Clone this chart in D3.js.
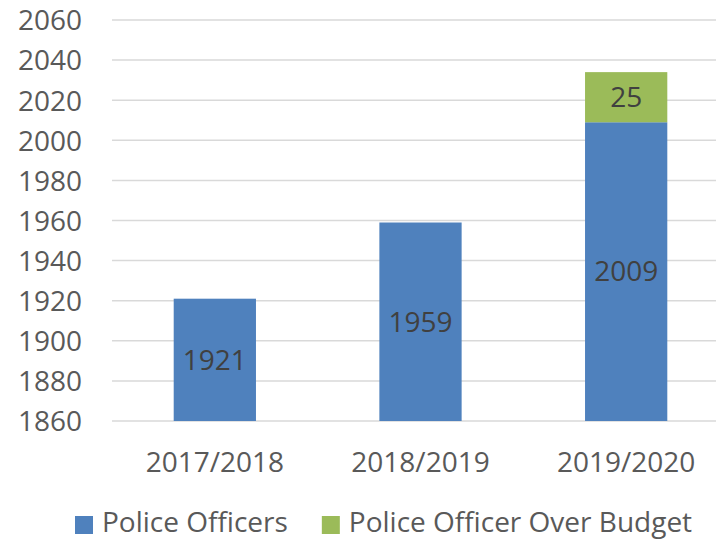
<!DOCTYPE html>
<html>
<head>
<meta charset="utf-8">
<script src="https://cdn.jsdelivr.net/npm/d3@7"></script>
<style>
  body { margin: 0; background: #fff; }
  text { font-family: "Open Sans", "Noto Sans", sans-serif; }
</style>
</head>
<body>
<div id="chart"></div>
<script>
var w = 716; // Set the width
var h = 540; // Set the height

// Chart data
var years = ["2017/2018", "2018/2019", "2019/2020"];
var officers = [1921, 1959, 2009];
var overBudget = [0, 0, 25];
var yTicks = [1860, 1880, 1900, 1920, 1940, 1960, 1980, 2000, 2020, 2040, 2060];
var seriesNames = ["Police Officers", "Police Officer Over Budget"];
var colors = ["#4f81bd", "#9bbb59"];

var svg = d3.select("#chart")
    .append("svg")
    .attr("width", w)
    .attr("height", h);

// Scales
var xScale = d3.scaleBand()
    .domain(years)
    .range([112, 729])
    .paddingInner(0.6)
    .paddingOuter(0.3);

var yScale = d3.scaleLinear()
    .domain([1860, 2060])
    .range([421, 20]);

// Gridlines
svg.append("g")
    .selectAll("line")
    .data(yTicks)
    .enter()
    .append("line")
    .attr("x1", 112)
    .attr("x2", w)
    .attr("y1", function(d) { return yScale(d); })
    .attr("y2", function(d) { return yScale(d); })
    .attr("stroke", "#d9d9d9")
    .attr("stroke-width", 1.5);

// Y axis labels
var yAxis = d3.axisLeft(yScale)
    .tickValues(yTicks)
    .tickFormat(d3.format("d"))
    .tickSize(0)
    .tickPadding(0);
var yg = svg.append("g")
    .attr("transform", "translate(82, 0)")
    .call(yAxis);
yg.select(".domain").remove();
yg.selectAll("text")
    .attr("fill", "#595959")
    .style("font-size", "28px")
    .attr("dy", "0.35em");

// X axis labels
var xAxis = d3.axisBottom(xScale).tickSize(0).tickPadding(0);
var xg = svg.append("g")
    .attr("transform", "translate(0, 472)")
    .call(xAxis);
xg.select(".domain").remove();
xg.selectAll("text")
    .attr("fill", "#595959")
    .attr("dy", 0)
    .style("font-size", "28px");

// Stacked data
var stacked = years.map(function(y, i) {
    return { year: y, officers: officers[i], over: overBudget[i] };
});

// Blue bars
svg.selectAll(".bar-officers")
    .data(stacked)
    .enter()
    .append("rect")
    .attr("class", "bar-officers")
    .attr("x", function(d) { return xScale(d.year); })
    .attr("width", xScale.bandwidth())
    .attr("y", function(d) { return yScale(d.officers); })
    .attr("height", function(d) { return yScale(1860) - yScale(d.officers); })
    .attr("fill", colors[0]);

// Green bars (over budget)
svg.selectAll(".bar-over")
    .data(stacked.filter(function(d) { return d.over > 0; }))
    .enter()
    .append("rect")
    .attr("class", "bar-over")
    .attr("x", function(d) { return xScale(d.year); })
    .attr("width", xScale.bandwidth())
    .attr("y", function(d) { return yScale(d.officers + d.over); })
    .attr("height", function(d) { return yScale(d.officers) - yScale(d.officers + d.over); })
    .attr("fill", colors[1]);

// Value labels
svg.selectAll(".lbl-officers")
    .data(stacked)
    .enter()
    .append("text")
    .attr("x", function(d) { return xScale(d.year) + xScale.bandwidth() / 2; })
    .attr("y", function(d) { return yScale((1860 + d.officers) / 2); })
    .attr("dy", "0.35em")
    .attr("text-anchor", "middle")
    .attr("fill", "#404040")
    .style("font-size", "28px")
    .text(function(d) { return d.officers; });

svg.selectAll(".lbl-over")
    .data(stacked.filter(function(d) { return d.over > 0; }))
    .enter()
    .append("text")
    .attr("x", function(d) { return xScale(d.year) + xScale.bandwidth() / 2; })
    .attr("y", function(d) { return yScale(d.officers + d.over / 2); })
    .attr("dy", "0.35em")
    .attr("text-anchor", "middle")
    .attr("fill", "#404040")
    .style("font-size", "28px")
    .text(function(d) { return d.over; });

// Legend
var legend = svg.append("g");
var lx = 75;
seriesNames.forEach(function(name, i) {
    legend.append("rect")
        .attr("x", lx)
        .attr("y", 516)
        .attr("width", 18)
        .attr("height", 18)
        .attr("fill", colors[i]);
    var t = legend.append("text")
        .attr("x", lx + 27)
        .attr("y", 532)
        .attr("fill", "#595959")
        .style("font-size", "28px")
        .text(name);
    lx = lx + 27 + t.node().getComputedTextLength() + 34;
});
</script>
</body>
</html>
